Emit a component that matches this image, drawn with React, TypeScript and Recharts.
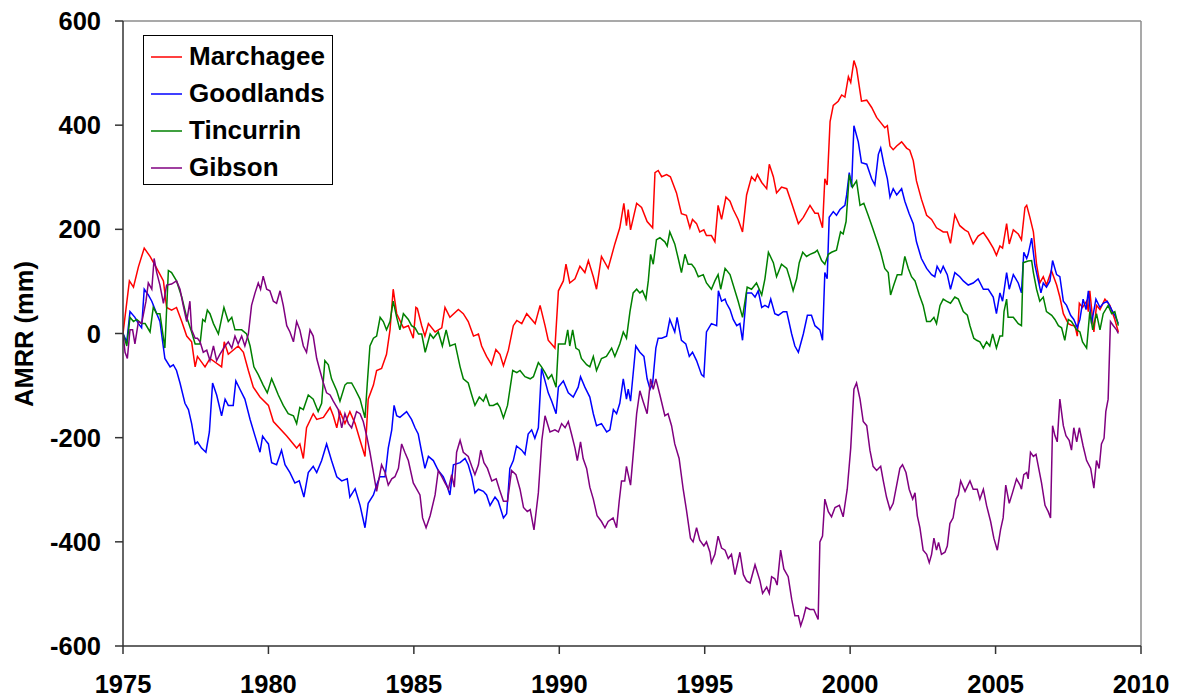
import { LineChart, Line, XAxis, YAxis, ReferenceLine, Legend } from "recharts";

// Accumulated monthly rainfall residual (mm) per station, as [year, value]
const marchagee: [number, number][] = [
  [1975.0, 0], [1975.22, 101], [1975.36, 89], [1975.53, 128], [1975.73, 164], [1975.93, 148],
  [1976.16, 125], [1976.39, 101], [1976.5, 50], [1976.67, 45], [1976.84, 50], [1977.02, 23],
  [1977.19, -5], [1977.36, -16], [1977.48, -64], [1977.56, -44], [1977.82, -64], [1977.99, -48],
  [1978.39, -64], [1978.48, -16], [1978.62, -40], [1978.96, -24], [1979.14, -36], [1979.31, -71],
  [1979.48, -103], [1979.71, -122], [1980.0, -138], [1980.17, -169], [1980.63, -197], [1980.97, -220],
  [1981.08, -212], [1981.2, -240], [1981.31, -181], [1981.54, -154], [1981.66, -165], [1981.89, -161],
  [1982.12, -142], [1982.23, -158], [1982.35, -181], [1982.46, -150], [1982.63, -173], [1982.8, -150],
  [1982.98, -173], [1983.15, -205], [1983.32, -236], [1983.43, -126], [1983.61, -99], [1983.72, -71],
  [1983.89, -67], [1984.06, -40], [1984.18, 7], [1984.29, 85], [1984.41, 38], [1984.64, 11],
  [1984.81, 15], [1984.98, -9], [1985.07, 50], [1985.12, 48], [1985.27, 15], [1985.38, -5],
  [1985.5, 19], [1985.73, 3], [1985.96, 11], [1986.07, 50], [1986.24, 31], [1986.53, 46],
  [1986.7, 38], [1986.87, 23], [1987.05, -5], [1987.22, -1], [1987.33, -24], [1987.5, -44],
  [1987.67, -60], [1987.82, -31], [1987.96, -40], [1988.08, -62], [1988.25, -32], [1988.42, 15],
  [1988.54, 25], [1988.71, 19], [1988.88, 38], [1989.05, 27], [1989.17, 19], [1989.34, 54],
  [1989.51, 15], [1989.62, -13], [1989.85, -28], [1989.97, 82], [1990.14, 101], [1990.23, 133],
  [1990.36, 97], [1990.54, 105], [1990.71, 129], [1990.88, 117], [1991.0, 140], [1991.17, 109],
  [1991.28, 85], [1991.45, 148], [1991.68, 125], [1991.91, 172], [1992.08, 203], [1992.22, 250],
  [1992.31, 207], [1992.37, 238], [1992.45, 199], [1992.66, 250], [1992.83, 242], [1993.02, 215],
  [1993.21, 203], [1993.29, 309], [1993.4, 313], [1993.52, 301], [1993.69, 305], [1993.82, 301],
  [1994.03, 270], [1994.2, 230], [1994.37, 227], [1994.49, 203], [1994.58, 219], [1994.72, 211],
  [1994.83, 195], [1994.97, 199], [1995.06, 188], [1995.23, 188], [1995.35, 176], [1995.46, 246],
  [1995.58, 219], [1995.73, 262], [1995.87, 254], [1995.98, 238], [1996.15, 219], [1996.3, 195],
  [1996.44, 266], [1996.61, 301], [1996.73, 293], [1996.81, 305], [1996.96, 290], [1997.13, 278],
  [1997.22, 325], [1997.36, 301], [1997.47, 270], [1997.64, 281], [1997.82, 278], [1997.99, 250],
  [1998.22, 211], [1998.39, 223], [1998.62, 246], [1998.79, 231], [1998.9, 231], [1999.05, 203],
  [1999.13, 297], [1999.21, 285], [1999.31, 407], [1999.42, 438], [1999.59, 446], [1999.71, 458],
  [1999.82, 454], [1999.94, 493], [2000.02, 482], [2000.13, 524], [2000.22, 509], [2000.39, 446],
  [2000.57, 448], [2000.74, 434], [2000.91, 415], [2001.08, 403], [2001.19, 395], [2001.28, 399],
  [2001.37, 360], [2001.48, 353], [2001.6, 360], [2001.77, 368], [2001.94, 356], [2002.05, 352],
  [2002.17, 332], [2002.28, 293], [2002.45, 258], [2002.63, 227], [2002.8, 219], [2002.97, 203],
  [2003.09, 199], [2003.2, 195], [2003.34, 195], [2003.45, 173], [2003.6, 228], [2003.77, 207],
  [2003.94, 199], [2004.06, 195], [2004.23, 172], [2004.4, 187], [2004.58, 194], [2004.75, 180],
  [2004.92, 164], [2005.03, 150], [2005.15, 168], [2005.24, 164], [2005.38, 211], [2005.47, 172],
  [2005.61, 199], [2005.78, 191], [2005.89, 180], [2006.01, 242], [2006.07, 246], [2006.18, 223],
  [2006.3, 195], [2006.41, 132], [2006.52, 97], [2006.64, 109], [2006.75, 93], [2006.92, 121],
  [2007.1, 93], [2007.21, 70], [2007.33, 38], [2007.5, 19], [2007.61, 16], [2007.73, 15],
  [2007.81, -5], [2007.88, 58], [2007.99, 50], [2008.13, 62], [2008.19, 42], [2008.24, 82],
  [2008.38, 3], [2008.47, 54], [2008.59, 46], [2008.76, 66], [2008.93, 54], [2009.1, 27],
  [2009.22, 3],
];

const goodlands: [number, number][] = [
  [1975.0, 0], [1975.13, -16], [1975.24, 42], [1975.41, 31], [1975.53, 19], [1975.64, 11],
  [1975.73, 85], [1975.87, 74], [1975.99, 62], [1976.16, 38], [1976.27, 23], [1976.44, -48],
  [1976.62, -64], [1976.73, -60], [1976.84, -71], [1976.96, -95], [1977.13, -134], [1977.25, -146],
  [1977.36, -173], [1977.48, -212], [1977.56, -208], [1977.7, -220], [1977.85, -228], [1977.97, -189],
  [1978.08, -95], [1978.22, -118], [1978.39, -158], [1978.51, -126], [1978.62, -138], [1978.79, -138],
  [1978.88, -91], [1979.02, -107], [1979.19, -126], [1979.37, -165], [1979.54, -197], [1979.71, -228],
  [1979.8, -197], [1979.94, -208], [1980.0, -212], [1980.11, -248], [1980.28, -252], [1980.45, -224],
  [1980.57, -252], [1980.74, -267], [1980.91, -287], [1981.06, -283], [1981.22, -314], [1981.37, -267],
  [1981.54, -255], [1981.66, -267], [1981.83, -244], [1982.0, -212], [1982.17, -244], [1982.35, -275],
  [1982.52, -283], [1982.71, -279], [1982.8, -314], [1982.98, -298], [1983.15, -330], [1983.32, -373],
  [1983.43, -326], [1983.61, -310], [1983.72, -291], [1983.83, -275], [1984.01, -275], [1984.12, -220],
  [1984.24, -185], [1984.32, -138], [1984.41, -158], [1984.52, -161], [1984.75, -150], [1984.92, -165],
  [1985.04, -181], [1985.15, -193], [1985.27, -228], [1985.38, -259], [1985.5, -236], [1985.67, -244],
  [1985.84, -263], [1986.01, -275], [1986.13, -291], [1986.24, -310], [1986.36, -252], [1986.59, -248],
  [1986.76, -240], [1986.87, -252], [1986.99, -275], [1987.1, -306], [1987.22, -299], [1987.39, -303],
  [1987.5, -310], [1987.62, -330], [1987.79, -314], [1987.9, -322], [1988.08, -354], [1988.19, -346],
  [1988.3, -259], [1988.42, -244], [1988.53, -216], [1988.71, -224], [1988.82, -232], [1988.93, -193],
  [1989.05, -185], [1989.16, -201], [1989.28, -181], [1989.39, -67], [1989.51, -91], [1989.62, -114],
  [1989.74, -130], [1989.89, -154], [1989.97, -103], [1990.14, -91], [1990.31, -114], [1990.48, -122],
  [1990.65, -103], [1990.73, -83], [1990.88, -103], [1991.05, -122], [1991.17, -154], [1991.28, -177],
  [1991.45, -173], [1991.63, -189], [1991.74, -185], [1991.86, -146], [1991.97, -154], [1992.08, -134],
  [1992.2, -87], [1992.31, -126], [1992.37, -107], [1992.45, -130], [1992.63, -24], [1992.77, -36],
  [1992.91, -44], [1993.02, -87], [1993.12, -107], [1993.21, -95], [1993.32, -28], [1993.4, -9],
  [1993.52, -9], [1993.69, -5], [1993.8, 27], [1993.97, 3], [1994.05, 31], [1994.2, -13],
  [1994.35, -20], [1994.47, -44], [1994.58, -36], [1994.72, -52], [1994.89, -79], [1994.97, -83],
  [1995.06, 3], [1995.23, 19], [1995.41, 15], [1995.47, 82], [1995.58, 62], [1995.7, 66],
  [1995.75, 58], [1995.87, 46], [1995.98, 27], [1996.1, 15], [1996.21, 19], [1996.3, -13],
  [1996.44, 78], [1996.61, 78], [1996.73, 70], [1996.84, 82], [1996.96, 50], [1997.07, 54],
  [1997.19, 50], [1997.27, 66], [1997.41, 38], [1997.53, 35], [1997.7, 42], [1997.82, 42],
  [1997.99, -1], [1998.1, -24], [1998.22, -36], [1998.39, -1], [1998.53, 35], [1998.67, 35],
  [1998.79, 15], [1998.96, 7], [1999.05, -13], [1999.13, 117], [1999.21, 105], [1999.28, 223],
  [1999.42, 234], [1999.53, 227], [1999.65, 238], [1999.82, 246], [1999.88, 266], [1999.97, 309],
  [2000.05, 281], [2000.13, 399], [2000.28, 368], [2000.39, 328], [2000.57, 325], [2000.74, 297],
  [2000.85, 285], [2000.97, 344], [2001.05, 356], [2001.16, 325], [2001.28, 297], [2001.37, 262],
  [2001.48, 278], [2001.6, 266], [2001.77, 278], [2001.88, 254], [2002.03, 230], [2002.17, 211],
  [2002.28, 176], [2002.45, 144], [2002.63, 125], [2002.8, 113], [2002.91, 109], [2002.99, 129],
  [2003.11, 117], [2003.2, 129], [2003.34, 113], [2003.45, 85], [2003.6, 117], [2003.77, 109],
  [2003.89, 101], [2004.06, 93], [2004.23, 97], [2004.4, 105], [2004.58, 85], [2004.75, 85],
  [2004.92, 70], [2005.03, 38], [2005.15, 78], [2005.24, 62], [2005.38, 117], [2005.47, 85],
  [2005.61, 113], [2005.78, 97], [2005.89, 78], [2005.97, 156], [2006.07, 144], [2006.12, 152],
  [2006.24, 183], [2006.35, 132], [2006.47, 101], [2006.56, 78], [2006.64, 97], [2006.75, 89],
  [2006.87, 101], [2006.96, 140], [2007.1, 113], [2007.21, 109], [2007.33, 62], [2007.44, 54],
  [2007.58, 35], [2007.69, 27], [2007.81, 11], [2007.9, 27], [2008.01, 66], [2008.11, 46],
  [2008.19, 82], [2008.3, 19], [2008.45, 66], [2008.59, 50], [2008.7, 58], [2008.84, 62],
  [2008.99, 46], [2009.1, 35], [2009.22, 19],
];

const tincurrin: [number, number][] = [
  [1975.0, 0], [1975.13, -24], [1975.24, 31], [1975.36, 23], [1975.47, 27], [1975.64, 19],
  [1975.76, 19], [1975.93, 3], [1976.04, 50], [1976.16, 38], [1976.27, 38], [1976.44, -28],
  [1976.56, 121], [1976.67, 117], [1976.84, 101], [1977.02, 70], [1977.19, 31], [1977.36, 3],
  [1977.48, -20], [1977.65, -20], [1977.74, 27], [1977.82, 23], [1977.9, 45], [1977.99, 38],
  [1978.11, 19], [1978.28, -1], [1978.47, 50], [1978.62, 23], [1978.74, 31], [1978.85, 7],
  [1979.08, 7], [1979.25, -1], [1979.37, -24], [1979.5, -64], [1979.65, -79], [1979.82, -99],
  [1979.96, -114], [1980.11, -87], [1980.23, -103], [1980.34, -118], [1980.51, -138], [1980.68, -154],
  [1980.86, -158], [1980.97, -173], [1981.08, -142], [1981.2, -146], [1981.37, -118], [1981.54, -126],
  [1981.71, -150], [1981.83, -134], [1981.94, -52], [1982.06, -60], [1982.17, -87], [1982.35, -110],
  [1982.46, -130], [1982.63, -99], [1982.71, -95], [1982.86, -95], [1982.98, -107], [1983.15, -126],
  [1983.32, -162], [1983.4, -95], [1983.49, -24], [1983.61, -9], [1983.72, -5], [1983.84, 31],
  [1983.95, 23], [1984.06, 7], [1984.18, 23], [1984.29, 62], [1984.41, 31], [1984.52, 7],
  [1984.64, 38], [1984.81, 27], [1984.92, 15], [1985.04, 11], [1985.16, -1], [1985.27, -1],
  [1985.39, -36], [1985.56, -1], [1985.67, -9], [1985.84, 3], [1985.98, -24], [1986.11, 7],
  [1986.24, -24], [1986.42, -20], [1986.59, -64], [1986.7, -87], [1986.87, -95], [1986.99, -118],
  [1987.1, -138], [1987.25, -122], [1987.39, -130], [1987.48, -118], [1987.6, -138], [1987.73, -138],
  [1987.87, -134], [1987.96, -142], [1988.08, -162], [1988.22, -138], [1988.4, -71], [1988.54, -75],
  [1988.65, -71], [1988.82, -83], [1989.0, -87], [1989.11, -83], [1989.28, -56], [1989.39, -64],
  [1989.51, -75], [1989.62, -87], [1989.74, -79], [1989.89, -103], [1989.97, -20], [1990.2, -20],
  [1990.29, 7], [1990.36, -24], [1990.46, 7], [1990.57, -28], [1990.68, -32], [1990.76, -48],
  [1990.94, -60], [1991.05, -64], [1991.17, -44], [1991.28, -71], [1991.45, -48], [1991.62, -44],
  [1991.8, -28], [1991.91, -44], [1992.08, -20], [1992.2, 3], [1992.31, -9], [1992.43, 42],
  [1992.54, 78], [1992.66, 85], [1992.77, 78], [1992.86, 82], [1992.98, 66], [1993.06, 101],
  [1993.14, 152], [1993.23, 133], [1993.34, 180], [1993.46, 184], [1993.63, 176], [1993.71, 168],
  [1993.8, 195], [1993.97, 172], [1994.09, 144], [1994.2, 117], [1994.32, 152], [1994.43, 133],
  [1994.55, 133], [1994.66, 125], [1994.78, 109], [1994.95, 113], [1995.06, 97], [1995.23, 85],
  [1995.35, 101], [1995.46, 113], [1995.55, 85], [1995.7, 125], [1995.87, 113], [1996.04, 82],
  [1996.15, 62], [1996.3, 31], [1996.46, 89], [1996.61, 85], [1996.78, 97], [1996.96, 74],
  [1997.07, 105], [1997.19, 156], [1997.36, 136], [1997.47, 109], [1997.64, 133], [1997.82, 125],
  [1997.93, 105], [1998.04, 82], [1998.16, 105], [1998.25, 136], [1998.37, 156], [1998.5, 148],
  [1998.62, 152], [1998.79, 156], [1998.87, 160], [1999.02, 140], [1999.13, 133], [1999.25, 152],
  [1999.36, 156], [1999.53, 160], [1999.67, 195], [1999.76, 191], [1999.86, 215], [1999.97, 305],
  [2000.08, 281], [2000.22, 293], [2000.34, 246], [2000.47, 250], [2000.62, 227], [2000.77, 203],
  [2000.91, 180], [2001.05, 156], [2001.19, 125], [2001.31, 117], [2001.39, 74], [2001.5, 93],
  [2001.62, 113], [2001.77, 113], [2001.88, 148], [2002.0, 125], [2002.11, 109], [2002.23, 101],
  [2002.38, 74], [2002.51, 54], [2002.63, 23], [2002.76, 23], [2002.88, 31], [2002.97, 19],
  [2003.09, 54], [2003.2, 66], [2003.31, 62], [2003.45, 58], [2003.6, 70], [2003.72, 66],
  [2003.89, 42], [2004.03, 35], [2004.12, 15], [2004.25, -9], [2004.35, -13], [2004.46, -16],
  [2004.58, -28], [2004.69, -16], [2004.8, -24], [2004.9, -1], [2005.03, -28], [2005.15, -5],
  [2005.24, -5], [2005.29, 42], [2005.38, 66], [2005.43, 31], [2005.61, 31], [2005.78, 19],
  [2005.89, 15], [2005.95, 136], [2006.12, 139], [2006.24, 140], [2006.3, 117], [2006.41, 85],
  [2006.52, 62], [2006.64, 70], [2006.75, 42], [2006.93, 35], [2007.04, 27], [2007.16, 15],
  [2007.27, 11], [2007.38, -13], [2007.5, 27], [2007.61, 23], [2007.79, 7], [2007.9, 3],
  [2007.99, -16], [2008.13, -28], [2008.24, 42], [2008.34, 7], [2008.47, 38], [2008.59, 7],
  [2008.7, 38], [2008.87, 54], [2008.99, 38], [2009.1, 42], [2009.22, 15],
];

const gibson: [number, number][] = [
  [1975.0, 0], [1975.07, -36], [1975.15, -48], [1975.24, 7], [1975.33, 7], [1975.41, -20],
  [1975.53, 23], [1975.64, 19], [1975.79, 62], [1975.87, 97], [1975.99, 85], [1976.07, 144],
  [1976.16, 117], [1976.27, 93], [1976.39, 58], [1976.5, 93], [1976.67, 95], [1976.84, 101],
  [1976.96, 85], [1977.07, 54], [1977.19, 23], [1977.3, 62], [1977.36, 7], [1977.48, -9],
  [1977.56, -9], [1977.65, -16], [1977.76, -36], [1977.88, -32], [1977.99, -52], [1978.11, -24],
  [1978.22, -52], [1978.33, -40], [1978.51, -24], [1978.62, -16], [1978.74, -28], [1978.85, -5],
  [1978.96, -20], [1979.08, -5], [1979.19, -24], [1979.31, -1], [1979.42, 54], [1979.54, 78],
  [1979.65, 97], [1979.73, 85], [1979.82, 110], [1979.94, 85], [1980.05, 82], [1980.17, 62],
  [1980.28, 58], [1980.4, 82], [1980.51, 54], [1980.63, 15], [1980.74, 3], [1980.86, -16],
  [1980.97, 23], [1981.08, 7], [1981.2, -24], [1981.31, -36], [1981.43, 7], [1981.54, -5],
  [1981.66, -48], [1981.77, -71], [1981.89, -95], [1982.0, -114], [1982.12, -118], [1982.23, -130],
  [1982.4, -146], [1982.52, -181], [1982.63, -154], [1982.75, -173], [1982.86, -181], [1983.03, -150],
  [1983.15, -154], [1983.26, -169], [1983.38, -197], [1983.49, -228], [1983.61, -267], [1983.72, -303],
  [1983.89, -252], [1984.01, -267], [1984.12, -291], [1984.24, -279], [1984.35, -275], [1984.47, -259],
  [1984.58, -212], [1984.69, -228], [1984.81, -244], [1984.98, -287], [1985.21, -310], [1985.3, -354],
  [1985.42, -373], [1985.56, -350], [1985.73, -310], [1985.84, -263], [1985.96, -275], [1986.07, -287],
  [1986.19, -299], [1986.3, -271], [1986.39, -295], [1986.47, -228], [1986.59, -205], [1986.7, -228],
  [1986.87, -236], [1986.99, -255], [1987.1, -271], [1987.22, -252], [1987.3, -224], [1987.41, -248],
  [1987.53, -259], [1987.68, -283], [1987.83, -279], [1987.94, -299], [1988.08, -322], [1988.22, -322],
  [1988.36, -263], [1988.51, -271], [1988.65, -299], [1988.77, -334], [1988.9, -342], [1989.0, -338],
  [1989.13, -377], [1989.28, -306], [1989.4, -205], [1989.51, -158], [1989.68, -189], [1989.85, -185],
  [1989.97, -189], [1990.08, -173], [1990.2, -181], [1990.31, -169], [1990.42, -193], [1990.54, -220],
  [1990.62, -244], [1990.73, -208], [1990.82, -240], [1990.94, -259], [1991.05, -295], [1991.17, -318],
  [1991.3, -350], [1991.45, -361], [1991.57, -373], [1991.68, -361], [1991.85, -354], [1991.97, -373],
  [1992.06, -322], [1992.14, -283], [1992.25, -283], [1992.31, -255], [1992.45, -291], [1992.56, -220],
  [1992.66, -154], [1992.77, -110], [1992.88, -130], [1993.02, -154], [1993.14, -87], [1993.23, -107],
  [1993.32, -87], [1993.46, -118], [1993.63, -158], [1993.74, -154], [1993.86, -177], [1993.97, -212],
  [1994.12, -240], [1994.26, -299], [1994.37, -338], [1994.51, -393], [1994.6, -400], [1994.72, -373],
  [1994.83, -397], [1994.97, -408], [1995.06, -400], [1995.18, -420], [1995.23, -440], [1995.35, -424],
  [1995.46, -389], [1995.58, -412], [1995.7, -416], [1995.81, -432], [1995.92, -424], [1996.04, -463],
  [1996.21, -420], [1996.33, -463], [1996.44, -475], [1996.56, -479], [1996.73, -444], [1996.9, -475],
  [1996.99, -499], [1997.13, -487], [1997.22, -499], [1997.3, -467], [1997.41, -471], [1997.49, -483],
  [1997.61, -416], [1997.72, -452], [1997.87, -467], [1997.99, -510], [1998.1, -542], [1998.22, -542],
  [1998.3, -561], [1998.39, -546], [1998.48, -526], [1998.62, -530], [1998.75, -530], [1998.9, -549],
  [1998.96, -400], [1999.05, -389], [1999.13, -318], [1999.25, -342], [1999.36, -352], [1999.48, -334],
  [1999.63, -330], [1999.76, -352], [1999.9, -299], [2000.02, -220], [2000.13, -107], [2000.22, -95],
  [2000.34, -126], [2000.45, -169], [2000.57, -177], [2000.68, -224], [2000.79, -255], [2000.91, -263],
  [2001.05, -255], [2001.14, -283], [2001.25, -314], [2001.37, -338], [2001.48, -326], [2001.6, -291],
  [2001.71, -259], [2001.8, -252], [2001.92, -267], [2002.03, -299], [2002.15, -318], [2002.23, -306],
  [2002.31, -350], [2002.4, -373], [2002.51, -416], [2002.63, -424], [2002.72, -440], [2002.8, -424],
  [2002.88, -393], [2002.97, -416], [2003.04, -401], [2003.14, -424], [2003.26, -420], [2003.34, -408],
  [2003.43, -365], [2003.54, -354], [2003.64, -318], [2003.72, -310], [2003.8, -283], [2003.95, -303],
  [2004.12, -283], [2004.23, -299], [2004.37, -299], [2004.46, -318], [2004.58, -299], [2004.69, -330],
  [2004.83, -361], [2004.94, -393], [2005.06, -416], [2005.17, -377], [2005.26, -354], [2005.35, -291],
  [2005.47, -326], [2005.58, -306], [2005.72, -279], [2005.84, -291], [2005.89, -299], [2005.97, -271],
  [2006.07, -267], [2006.12, -279], [2006.2, -228], [2006.3, -236], [2006.39, -232], [2006.47, -255],
  [2006.58, -287], [2006.7, -330], [2006.81, -342], [2006.89, -354], [2006.96, -177], [2007.04, -196],
  [2007.12, -208], [2007.21, -126], [2007.33, -177], [2007.42, -196], [2007.53, -205], [2007.61, -224],
  [2007.69, -181], [2007.79, -208], [2007.88, -181], [2008.01, -216], [2008.13, -244], [2008.27, -259],
  [2008.38, -297], [2008.47, -244], [2008.56, -259], [2008.64, -212], [2008.73, -201], [2008.79, -150],
  [2008.87, -126], [2008.95, 23], [2009.05, 15], [2009.16, 7], [2009.22, 0],
];

const stations = [
  { name: "Marchagee", color: "#ff0000", values: marchagee },
  { name: "Goodlands", color: "#0000ff", values: goodlands },
  { name: "Tincurrin", color: "#008000", values: tincurrin },
  { name: "Gibson", color: "#800080", values: gibson },
];

const yearTicks = [1975, 1980, 1985, 1990, 1995, 2000, 2005, 2010];
const amrrTicks = [-600, -400, -200, 0, 200, 400, 600];

const FONT = '"Liberation Sans", Arial, Helvetica, sans-serif';
const tickStyle = { fill: "#000", fontSize: 25.5, fontWeight: 700, fontFamily: FONT };

const YTitle = () => (
  <text
    x={24}
    y={334}
    transform="rotate(-90 24 334)"
    textAnchor="middle"
    dominantBaseline="central"
    fill="#000"
    style={{ fontSize: 25.5, fontWeight: 700, fontFamily: FONT }}
  >
    AMRR (mm)
  </text>
);

const LegendBox = () => (
  <div
    style={{
      boxSizing: "border-box",
      width: 190,
      height: 150,
      border: "1px solid #000",
      background: "#fff",
      paddingTop: 2,
      fontFamily: FONT,
      fontWeight: 700,
      fontSize: 26,
      color: "#000",
    }}
  >
    {stations.map((s) => (
      <div key={s.name} style={{ height: 37, display: "flex", alignItems: "center" }}>
        <svg width={45} height={10} style={{ flexShrink: 0 }}>
          <line x1={7} x2={38} y1={5} y2={5} stroke={s.color} strokeWidth={1.5} />
        </svg>
        <span style={{ lineHeight: "37px" }}>{s.name}</span>
      </div>
    ))}
  </div>
);

export default function App() {
  return (
    <div style={{ position: "absolute", left: 0, top: 0, width: 1179, height: 697, background: "#fff" }}>
      <LineChart width={1179} height={697} margin={{ top: 21, right: 38, bottom: 1, left: 0 }}>
        <XAxis
          type="number"
          dataKey="year"
          domain={[1975, 2010]}
          ticks={yearTicks}
          interval={0}
          allowDataOverflow
          height={50}
          tick={tickStyle}
          tickSize={8}
          tickMargin={21}
          stroke="#333"
          strokeWidth={1.5}
        />
        <YAxis
          type="number"
          domain={[-600, 600]}
          ticks={amrrTicks}
          interval={0}
          allowDataOverflow
          width={123}
          tick={tickStyle}
          tickSize={8}
          tickMargin={14}
          stroke="#333"
          strokeWidth={1.5}
          label={<YTitle />}
        />
        <ReferenceLine y={600} stroke="#8c8c8c" strokeWidth={1.5} />
        <ReferenceLine x={2010} stroke="#8c8c8c" strokeWidth={1.5} />
        {stations.map((s) => (
          <Line
            key={s.name}
            name={s.name}
            data={s.values.map(([year, amrr]) => ({ year, amrr }))}
            dataKey="amrr"
            type="linear"
            stroke={s.color}
            strokeWidth={1.5}
            dot={false}
            activeDot={false}
            isAnimationActive={false}
          />
        ))}
        <Legend
          layout="horizontal"
          verticalAlign="middle"
          align="center"
          wrapperStyle={{ left: 143, top: 35, width: 190, height: 150 }}
          content={() => <LegendBox />}
        />
      </LineChart>
    </div>
  );
}
